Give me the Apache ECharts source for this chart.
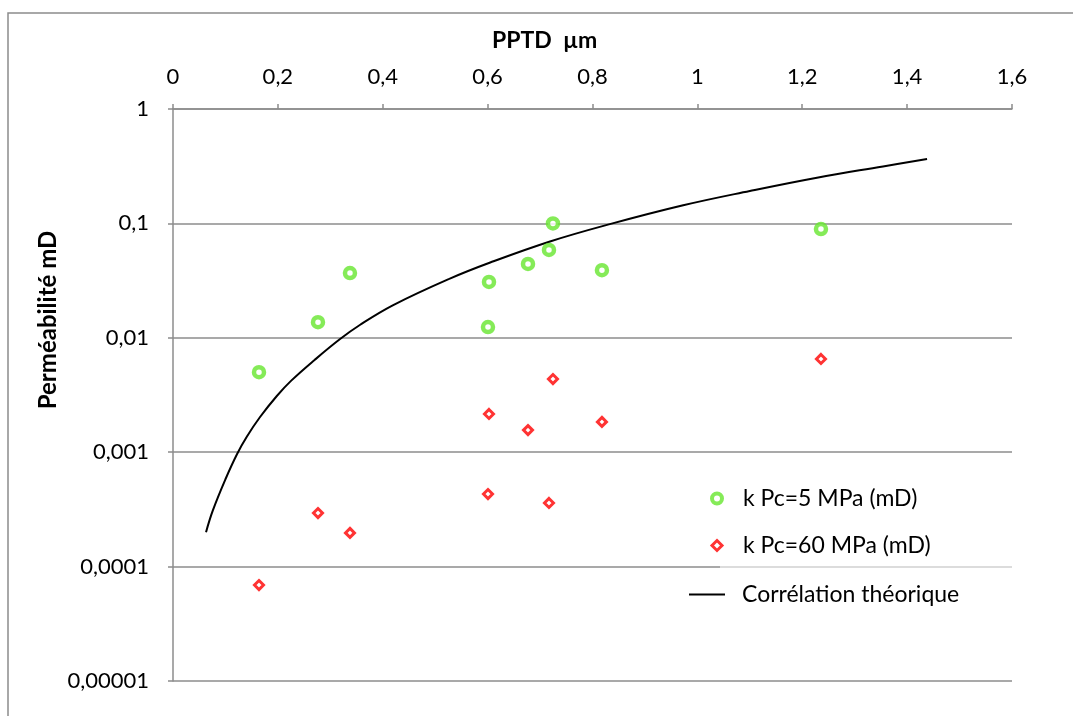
<!DOCTYPE html>
<html>
<head>
<meta charset="utf-8">
<script src="https://cdn.jsdelivr.net/npm/echarts@6/dist/echarts.min.js"></script>
<style>
html,body{margin:0;padding:0;background:#fff;}
#c{width:1073px;height:716px;}
</style>
</head>
<body>
<div id="c"></div>
<script>
// PPTD (µm) for each sample
const pptd = [0.164, 0.2765, 0.3375, 0.6026, 0.6007, 0.677, 0.717, 0.7246, 0.818, 1.2357];
// Permeability at Pc = 5 MPa (mD)
const k5 = [0.005, 0.0137, 0.0368, 0.0308, 0.0124, 0.0442, 0.0586, 0.1, 0.039, 0.0893];
// Permeability at Pc = 60 MPa (mD)
const k60 = [0.000069, 0.000294, 0.000197, 0.00216, 0.000431, 0.00156, 0.00036, 0.00436, 0.00184, 0.00653];
// Theoretical correlation curve
const corrX = [0.063, 0.076, 0.1, 0.122, 0.141, 0.166, 0.198, 0.225, 0.27, 0.318, 0.357, 0.42, 0.528, 0.605, 0.719, 0.833, 0.973, 1.10, 1.228, 1.354, 1.438];
const corrY = [0.0002, 0.00031, 0.00058, 0.00096, 0.00137, 0.00203, 0.0031, 0.0042, 0.0064, 0.0097, 0.013, 0.0193, 0.0329, 0.0455, 0.0695, 0.0985, 0.144, 0.192, 0.251, 0.315, 0.366];
// Axis labels
const xTitle = 'PPTD  µm';
const yTitle = 'Perméabilité mD';
const seriesNames = ['k Pc=5 MPa (mD)', 'k Pc=60 MPa (mD)', 'Corrélation théorique'];

const FONT = 'Lato';
const GREEN = '#66e62e';
const RED = '#ff0000';
const chart = echarts.init(document.getElementById('c'), null, {renderer: 'canvas'});

function fmtY(v) {
  if (v >= 0.999) return '1';
  const d = Math.round(-Math.log10(v));
  return '0,' + '0'.repeat(d - 1) + '1';
}

chart.setOption({
  animation: false,
  backgroundColor: '#fff',
  textStyle: {fontFamily: FONT},
  grid: {left: 173, right: 61, top: 109, bottom: 35, containLabel: false},
  xAxis: {
    type: 'value', position: 'top', min: 0, max: 1.6, interval: 0.2,
    axisLine: {show: true, lineStyle: {color: '#8c8c8c', width: 1.5}},
    axisTick: {show: true, inside: false, length: 5, lineStyle: {color: '#8c8c8c', width: 1.5}},
    axisLabel: {margin: 21, fontSize: 22, color: '#000', fontFamily: FONT,
      formatter: v => String(Math.round(v * 10) / 10).replace('.', ',')},
    splitLine: {show: false}
  },
  yAxis: {
    type: 'log', logBase: 10, min: 0.00001, max: 1,
    axisLine: {show: true, onZero: false, lineStyle: {color: '#8c8c8c', width: 1.5}},
    axisTick: {show: true, inside: false, length: 5, lineStyle: {color: '#8c8c8c', width: 1.5}},
    axisLabel: {margin: 24, fontSize: 22, color: '#000', fontFamily: FONT, formatter: fmtY},
    splitLine: {show: true, lineStyle: {color: '#8c8c8c', width: 1.5}},
    minorTick: {show: false}
  },
  legend: [
    {
      orient: 'vertical', left: 705, top: 482, z: 10,
      itemWidth: 10, itemHeight: 10, itemGap: 24,
      textStyle: {fontSize: 23, color: '#000', fontFamily: FONT, padding: [0, 0, 0, 16]},
      data: [
        {name: seriesNames[0], icon: 'circle', itemStyle: {color: '#fff', borderColor: GREEN, borderWidth: 4}},
        {name: seriesNames[1], icon: 'diamond', itemStyle: {color: '#fff', borderColor: RED, borderWidth: 3}}
      ]
    },
    {
      orient: 'vertical', left: 684, top: 578, z: 10,
      itemWidth: 36, itemHeight: 14,
      textStyle: {fontSize: 23, color: '#000', fontFamily: FONT, padding: [0, 0, 0, 12]},
      data: [{name: seriesNames[2], icon: 'path://M0,0 L36,0 L36,2 L0,2 Z', itemStyle: {color: '#000'}}]
    }
  ],
  graphic: [
    {type: 'rect', shape: {x: 8, y: 13, width: 1100, height: 760},
      style: {fill: 'none', stroke: '#8c8c8c', lineWidth: 1.5}, z: -10, silent: true},
    {type: 'rect', shape: {x: 720, y: 470, width: 292, height: 145},
      style: {fill: 'rgba(255,255,255,0.6)'}, z: 1, silent: true},
    {type: 'text', left: 492, top: 29,
      style: {text: xTitle, font: 'bold 23px ' + FONT, fill: '#000'}},
    {type: 'text', x: 48, y: 320, rotation: Math.PI / 2,
      style: {text: yTitle, font: 'bold 24px ' + FONT, fill: '#000', align: 'center', verticalAlign: 'middle'}}
  ],
  series: [
    {
      name: seriesNames[0], type: 'scatter', symbol: 'circle', symbolSize: 10,
      itemStyle: {color: '#fff', borderColor: GREEN, borderWidth: 4.5},
      data: pptd.map((x, i) => [x, k5[i]]), z: 3
    },
    {
      name: seriesNames[1], type: 'scatter', symbol: 'diamond', symbolSize: 9,
      itemStyle: {color: '#fff', borderColor: RED, borderWidth: 3},
      data: pptd.map((x, i) => [x, k60[i]]), z: 3
    },
    {
      name: seriesNames[2], type: 'line', smooth: 0.4, showSymbol: false, symbol: 'none',
      lineStyle: {color: '#000', width: 2},
      itemStyle: {color: '#000'},
      data: corrX.map((x, i) => [x, corrY[i]]), z: 2
    }
  ]
});
</script>
</body>
</html>
